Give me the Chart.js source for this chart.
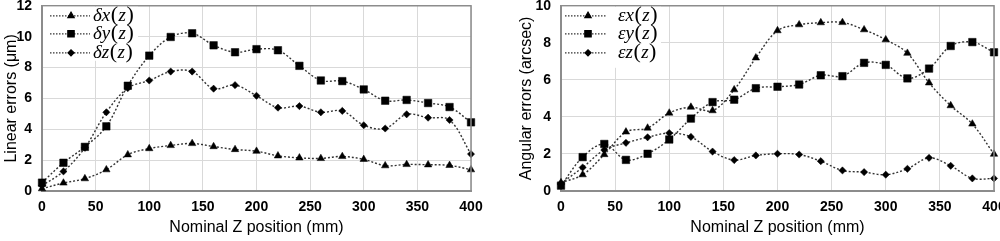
<!DOCTYPE html>
<html>
<head>
<meta charset="utf-8">
<script src="https://cdn.jsdelivr.net/npm/chart.js@4"></script>
<style>
  html, body { margin: 0; padding: 0; background: #fff; overflow: hidden; width: 1000px; height: 241px; }
  .box { position: absolute; top: 0; height: 241px; }
</style>
</head>
<body>
<div class="box" style="left:0;width:500px"><canvas id="linear" width="500" height="241"></canvas></div>
<div class="box" style="left:500px;width:520px"><canvas id="angular" width="520" height="241"></canvas></div>
<script>
// nominal Z positions (mm)
const zPositions = [0, 20, 40, 60, 80, 100, 120, 140, 160, 180, 200, 220, 240, 260, 280, 300, 320, 340, 360, 380, 400];

// linear errors (um)
const deltaX = [0.15, 0.52, 0.8, 1.38, 2.35, 2.75, 2.95, 3.08, 2.88, 2.69, 2.58, 2.28, 2.15, 2.11, 2.24, 2.05, 1.64, 1.72, 1.7, 1.66, 1.38];
const deltaY = [0.54, 1.83, 2.86, 4.19, 6.82, 8.77, 9.98, 10.22, 9.44, 8.99, 9.19, 9.12, 8.11, 7.16, 7.12, 6.58, 5.85, 5.9, 5.7, 5.44, 4.45];
const deltaZ = [0.35, 1.27, 2.8, 5.1, 6.67, 7.16, 7.74, 7.74, 6.63, 6.86, 6.17, 5.4, 5.5, 5.1, 5.19, 4.26, 4.05, 4.97, 4.75, 4.6, 2.39];

// angular errors (arcsec)
const epsX = [0.45, 0.88, 1.97, 3.19, 3.4, 4.21, 4.53, 4.34, 5.47, 7.19, 8.66, 8.98, 9.09, 9.1, 8.71, 8.17, 7.44, 5.84, 4.61, 3.62, 1.99];
const epsY = [0.29, 1.83, 2.54, 1.68, 2.01, 2.78, 3.91, 4.8, 4.93, 5.55, 5.63, 5.75, 6.25, 6.2, 6.92, 6.81, 6.08, 6.61, 7.83, 8.04, 7.49];
const epsZ = [0.41, 1.27, 2.22, 2.6, 2.9, 3.13, 2.92, 2.13, 1.67, 1.92, 2.01, 1.97, 1.61, 1.11, 1.02, 0.88, 1.2, 1.79, 1.36, 0.68, 0.68];

const linearNames = ['δx', 'δy', 'δz'];
const angularNames = ['εx', 'εy', 'εz'];
const markers = ['triangle', 'rect', 'rectRot'];
const markerSizes = [4.3, 5.3, 3.6];

const xTitle = 'Nominal Z position (mm)';
const linearTitle = 'Linear errors (μm)';
const angularTitle = 'Angular errors (arcsec)';

function makeSet(name, values, i) {
    return {
        label: name,
        data: zPositions.map((z, k) => ({ x: z, y: values[k] })),
        borderColor: '#333',
        borderWidth: 1.4,
        borderDash: [2, 2],
        tension: 0.35,
        pointStyle: markers[i],
        pointRadius: markerSizes[i],
        pointBackgroundColor: '#000',
        pointBorderColor: '#000',
        pointBorderWidth: 0.5,
        clip: false
    };
}

// frame on top/right plus the legend box inside the plot
const frameLegend = {
    id: 'frameLegend',
    afterDraw(chart, args, opts) {
        const { ctx, chartArea: a } = chart;
        ctx.save();
        ctx.strokeStyle = '#8c8c8c';
        ctx.lineWidth = 1.5;
        ctx.beginPath();
        ctx.moveTo(a.left, a.top);
        ctx.lineTo(a.right, a.top);
        ctx.lineTo(a.right, a.bottom);
        ctx.stroke();

        ctx.fillStyle = '#fff';
        ctx.fillRect(a.left + 1, a.top + 1, opts.boxW, opts.boxH);

        chart.data.datasets.forEach((ds, i) => {
            const y = a.top + opts.rows[i];
            ctx.strokeStyle = ds.borderColor;
            ctx.lineWidth = 1.2;
            ctx.setLineDash([1.5, 1.5]);
            ctx.beginPath();
            ctx.moveTo(a.left + opts.lineStart, y);
            ctx.lineTo(a.left + opts.lineEnd, y);
            ctx.stroke();
            ctx.setLineDash([]);
            ctx.fillStyle = '#000';
            ctx.strokeStyle = '#000';
            Chart.helpers.drawPoint(ctx, { pointStyle: ds.pointStyle, radius: ds.pointRadius * 0.85, rotation: 0, borderWidth: 0.5 }, a.left + opts.marker, y);

            let x = a.left + opts.textX;
            ctx.textBaseline = 'middle';
            ctx.textAlign = 'left';
            const parts = [
                [ds.label, 'italic 19px "Liberation Serif"', 0],
                ['(', '22px "Liberation Serif"', -0.5],
                ['z', 'italic 19px "Liberation Serif"', 0],
                [')', '22px "Liberation Serif"', -0.5]
            ];
            parts.forEach(([t, f, dy]) => {
                ctx.font = f;
                ctx.fillText(t, x, y + dy);
                x += ctx.measureText(t).width + 0.5;
            });
        });
        ctx.restore();
    }
};

function makeChart(id, names, series, yMax, yTitle, yWidth, yTitlePad, rightPad, legendOpts) {
    const ctx = document.getElementById(id).getContext('2d');
    return new Chart(ctx, {
        type: 'line',
        data: { datasets: names.map((n, i) => makeSet(n, series[i], i)) },
        options: {
            responsive: false,
            animation: false,
            layout: { padding: { top: 5, right: rightPad, left: 0, bottom: 0 } },
            plugins: {
                legend: { display: false },
                tooltip: { enabled: false },
                frameLegend: legendOpts
            },
            scales: {
                x: {
                    type: 'linear',
                    min: 0,
                    max: 400,
                    ticks: { stepSize: 50, padding: 8, color: '#000', font: { family: 'Liberation Sans', size: 14, weight: 'bold' } },
                    grid: { color: '#d9d9d9', drawTicks: false },
                    border: { color: '#8c8c8c', width: 2 },
                    title: { display: true, text: xTitle, color: '#000', padding: { top: 0, bottom: 4 }, font: { family: 'Liberation Sans', size: 16 } },
                    afterFit(s) { s.height = 50; s.paddingLeft = 0; s.paddingRight = 0; }
                },
                y: {
                    min: 0,
                    max: yMax,
                    ticks: { stepSize: 2, padding: 10, color: '#000', font: { family: 'Liberation Sans', size: 14, weight: 'bold' } },
                    grid: { color: '#d9d9d9', drawTicks: false },
                    border: { color: '#8c8c8c', width: 2 },
                    title: { display: true, text: yTitle, color: '#000', padding: { top: yTitlePad, bottom: 0 }, font: { family: 'Liberation Sans', size: 16 } },
                    afterFit(s) { s.width = yWidth; s.paddingTop = 0; s.paddingBottom = 0; }
                }
            }
        },
        plugins: [frameLegend]
    });
}

makeChart('linear', linearNames, [deltaX, deltaY, deltaZ], 12, linearTitle, 42, 2, 29,
    { boxW: 95, boxH: 54, rows: [10, 28, 47], lineStart: 8, lineEnd: 48, marker: 29, textX: 51 });
makeChart('angular', angularNames, [epsX, epsY, epsZ], 10, angularTitle, 61, 17, 26,
    { boxW: 99, boxH: 61, rows: [10, 28, 47], lineStart: 4, lineEnd: 46, marker: 27, textX: 57 });
</script>
</body>
</html>
